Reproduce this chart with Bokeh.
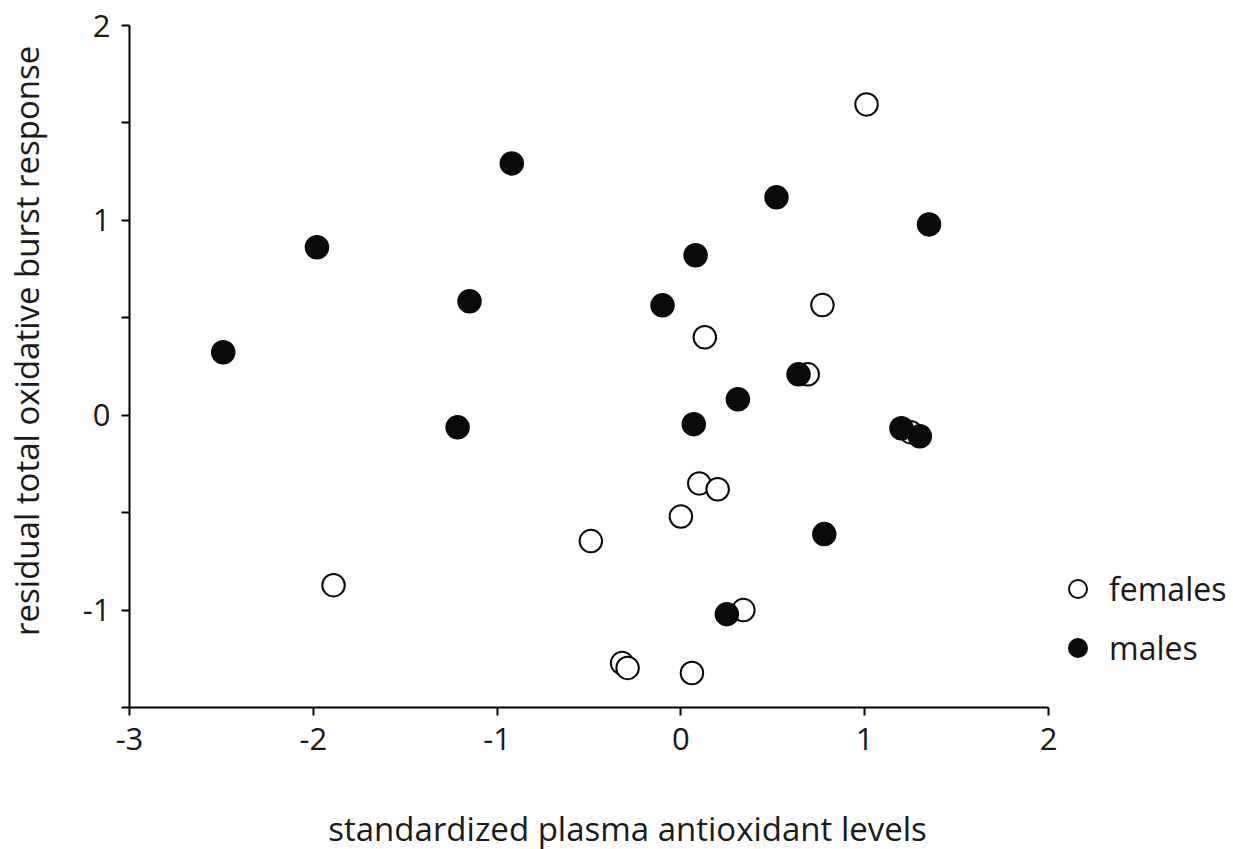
from bokeh.plotting import figure
from bokeh.models import Range1d, FixedTicker, Legend, LegendItem, ColumnDataSource
from bokeh.embed import file_html
from bokeh.resources import INLINE

# Data
female_x = [1.01, 0.77, 0.13, 0.69, 1.25, 0.10, 0.20, 0.00, -0.49, -1.89, 0.34, -0.32, -0.29, 0.06]
female_y = [1.595, 0.565, 0.40, 0.21, -0.087, -0.35, -0.38, -0.52, -0.646, -0.872, -1.00, -1.272, -1.297, -1.323]
male_x = [-2.49, -1.98, -0.92, -1.15, -1.215, -0.10, 0.08, 0.52, 1.35, 0.64, 0.31, 0.07, 1.20, 1.30, 0.78, 0.25]
male_y = [0.323, 0.862, 1.292, 0.585, -0.062, 0.564, 0.821, 1.118, 0.979, 0.210, 0.082, -0.046, -0.067, -0.108, -0.610, -1.021]

x_ticks = [-3, -2, -1, 0, 1, 2]
y_ticks = [-1, 0, 1, 2]
y_minor = [-1.5, -0.5, 0.5, 1.5]
x_title = "standardized plasma antioxidant levels"
y_title = "residual total oxidative burst response"
series_names = ["females", "males"]

FONT = "Open Sans"
TXT = "#1a1a1a"
NB = "\u00a0"

p = figure(output_backend="svg", toolbar_location=None,
           frame_width=919, frame_height=682,
           min_border_left=129, min_border_right=185,
           min_border_top=25, min_border_bottom=142,
           x_range=Range1d(-3, 2), y_range=Range1d(-1.5, 2))

p.outline_line_color = None
p.xgrid.grid_line_color = None
p.ygrid.grid_line_color = None
p.background_fill_color = "white"
p.border_fill_color = "white"

fs = ColumnDataSource(dict(x=female_x, y=female_y))
ms = ColumnDataSource(dict(x=male_x, y=male_y))
rf = p.scatter("x", "y", source=fs, size=22.5, marker="circle",
               fill_color="white", line_color="#0a0a0a", line_width=2)
rm = p.scatter("x", "y", source=ms, size=22.5, marker="circle",
               fill_color="#0a0a0a", line_color="#0a0a0a", line_width=2)

for ax in (p.xaxis[0], p.yaxis[0]):
    ax.axis_line_color = "black"
    ax.axis_line_width = 2
    ax.major_tick_line_color = "black"
    ax.major_tick_line_width = 2
    ax.major_tick_in = 0
    ax.major_tick_out = 8
    ax.minor_tick_line_color = "black"
    ax.minor_tick_line_width = 2
    ax.minor_tick_in = 0
    ax.minor_tick_out = 8
    ax.major_label_text_font = FONT
    ax.major_label_text_font_size = "31px"
    ax.major_label_text_color = TXT
    ax.axis_label_text_font = FONT
    ax.axis_label_text_font_size = "33px"
    ax.axis_label_text_font_style = "normal"
    ax.axis_label_text_color = TXT

p.xaxis[0].ticker = FixedTicker(ticks=x_ticks)
p.xaxis[0].major_label_overrides = {t: str(t) for t in x_ticks}
p.xaxis[0].major_label_standoff = 12
p.xaxis[0].axis_label = NB * 9 + x_title
p.xaxis[0].axis_label_standoff = 53

p.yaxis[0].ticker = FixedTicker(ticks=y_ticks, minor_ticks=y_minor)
p.yaxis[0].major_label_overrides = {t: str(t) for t in y_ticks}
p.yaxis[0].major_label_standoff = 11
p.yaxis[0].major_label_orientation = "horizontal"
p.yaxis[0].axis_label = NB * 6 + y_title
p.yaxis[0].axis_label_standoff = 31

legend = Legend(items=[LegendItem(label=series_names[0], renderers=[rf]),
                       LegendItem(label=series_names[1], renderers=[rm])],
                location=(7, 37), orientation="vertical",
                glyph_width=45, glyph_height=45, spacing=14,
                label_standoff=9, padding=0, margin=0,
                border_line_color=None, background_fill_alpha=0,
                label_text_font=FONT, label_text_font_size="32px",
                label_text_color=TXT)
p.add_layout(legend, "right")

open("out.html", "w").write(file_html(p, INLINE))
